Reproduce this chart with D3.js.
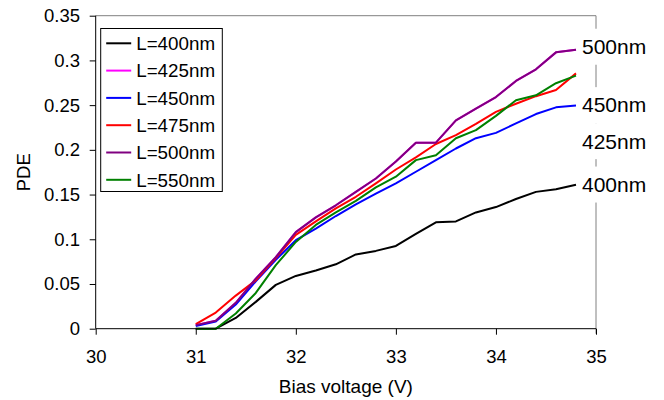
<!DOCTYPE html>
<html>
<head>
<meta charset="utf-8">
<script src="https://cdn.jsdelivr.net/npm/d3@7"></script>
<style>
  body { margin: 0; background: #fff; }
  text { font-family: "Liberation Sans", Arial, sans-serif; fill: #000; }
</style>
</head>
<body>
<div id="graph"></div>
<script>
const voltage = [31, 31.2, 31.4, 31.6, 31.8, 32, 32.2, 32.4, 32.6, 32.8, 33, 33.2, 33.4, 33.6, 33.8, 34, 34.2, 34.4, 34.6, 34.8];
const pde400 = [0, 0, 0.012, 0.03, 0.049, 0.059, 0.065, 0.072, 0.083, 0.087, 0.0925, 0.106, 0.119, 0.12, 0.13, 0.136, 0.145, 0.153, 0.156, 0.161];
const pde425 = [0.004, 0.009, 0.029, 0.056, 0.08, 0.108, 0.1245, 0.138, 0.153, 0.168, 0.187, 0.208, 0.208, 0.233, 0.246, 0.259, 0.277, 0.29, 0.309, 0.312];
const pde450 = [0.003, 0.008, 0.027, 0.053, 0.077, 0.099, 0.112, 0.126, 0.139, 0.151, 0.1625, 0.1755, 0.1885, 0.2015, 0.213, 0.219, 0.2295, 0.24, 0.2475, 0.2495];
const pde475 = [0.005, 0.018, 0.037, 0.054, 0.079, 0.105, 0.12, 0.1345, 0.1475, 0.1625, 0.178, 0.1915, 0.2065, 0.2165, 0.229, 0.2425, 0.2515, 0.26, 0.267, 0.2855];
const pde500 = [0.004, 0.009, 0.029, 0.056, 0.08, 0.108, 0.1245, 0.138, 0.153, 0.168, 0.187, 0.208, 0.208, 0.233, 0.246, 0.259, 0.277, 0.29, 0.309, 0.312];
const pde550 = [0, 0, 0.017, 0.04, 0.071, 0.097, 0.116, 0.13, 0.143, 0.158, 0.17, 0.1885, 0.194, 0.213, 0.222, 0.238, 0.2555, 0.261, 0.2745, 0.283];
const seriesNames = ["L=400nm", "L=425nm", "L=450nm", "L=475nm", "L=500nm", "L=550nm"];
const seriesColors = ["#000000", "#ff00ff", "#0000ff", "#ff0000", "#800080", "#008000"];
const xTicks = [30, 31, 32, 33, 34, 35];
const yTicks = [0, 0.05, 0.1, 0.15, 0.2, 0.25, 0.3, 0.35];
const endLabels = ["400nm", "425nm", "450nm", "500nm"];
const endLabelAt = [0.1612, 0.2097, 0.25, 0.3153];

const series = [pde400, pde425, pde450, pde475, pde500, pde550];
const w = 664, h = 400;
const x = d3.scaleLinear().domain([30, 35]).range([95.7, 596]);
const y = d3.scaleLinear().domain([0, 0.35]).range([328.7, 15.7]);

const svg = d3.select("#graph").append("svg").attr("width", w).attr("height", h);
svg.append("rect").attr("width", w).attr("height", h).attr("fill", "#fff");

// top and right frame
svg.append("line").attr("x1", x(30)).attr("x2", x(35)).attr("y1", y(0.35)).attr("y2", y(0.35)).attr("stroke", "#808080");
svg.append("line").attr("x1", x(35)).attr("x2", x(35)).attr("y1", y(0.35)).attr("y2", y(0) + 5).attr("stroke", "#808080");

const line = d3.line().x((d, i) => x(voltage[i])).y((d) => y(d));
svg.append("g")
  .selectAll("path")
  .data(series)
  .enter()
  .append("path")
  .attr("d", line)
  .attr("fill", "none")
  .attr("stroke", (d, i) => seriesColors[i])
  .attr("stroke-width", 2)
  .attr("stroke-linejoin", "round");

const xAxis = svg.append("g")
  .attr("transform", `translate(0,${y(0)})`)
  .call(d3.axisBottom(x).tickValues(xTicks).tickSize(6).tickPadding(15).tickFormat(d3.format("d")));
const yAxis = svg.append("g")
  .attr("transform", `translate(${x(30)},0)`)
  .call(d3.axisLeft(y).tickValues(yTicks).tickSize(6).tickPadding(9.7).tickFormat((d) => String(+d.toFixed(2))));
[xAxis, yAxis].forEach((a) => {
  a.attr("font-size", null).attr("font-family", null);
  a.select(".domain").attr("stroke", "#000");
  a.selectAll(".tick line").attr("stroke", "#000");
  a.selectAll("text").style("font-size", "18.5px");
});
xAxis.select(".domain").attr("d", `M${x(30)},0H${x(35)}`);
yAxis.select(".domain").attr("d", `M0,${y(0.35)}V${y(0)}`);

svg.append("text").attr("x", (x(30) + x(35)) / 2).attr("y", 393).attr("text-anchor", "middle").style("font-size", "19px").text("Bias voltage (V)");
svg.append("text").attr("transform", `translate(30,${(y(0) + y(0.35)) / 2}) rotate(-90)`).attr("text-anchor", "middle").style("font-size", "18.5px").text("PDE");

// legend
const legend = svg.append("g").attr("transform", "translate(100.7,28.5)");
legend.append("rect").attr("width", 121.6).attr("height", 163).attr("fill", "#fff").attr("stroke", "#000");
const item = legend.selectAll("g.item").data(seriesNames).enter().append("g")
  .attr("class", "item")
  .attr("transform", (d, i) => `translate(0,${14.8 + i * 27.3})`);
item.append("line").attr("x1", 5.5).attr("x2", 30.5).attr("stroke", (d, i) => seriesColors[i]).attr("stroke-width", 2);
item.append("text").attr("x", 35.5).attr("dy", "0.36em").style("font-size", "18.8px").text((d) => d);

// labels at the right end
const lab = svg.append("g").selectAll("g").data(endLabels).enter().append("g")
  .attr("transform", (d, i) => `translate(582,${y(endLabelAt[i])})`);
lab.append("rect").attr("x", -2).attr("y", -18).attr("width", 70).attr("height", 36).attr("fill", "#fff");
lab.append("text").attr("dy", "0.35em").style("font-size", "21px").text((d) => d);
</script>
</body>
</html>
